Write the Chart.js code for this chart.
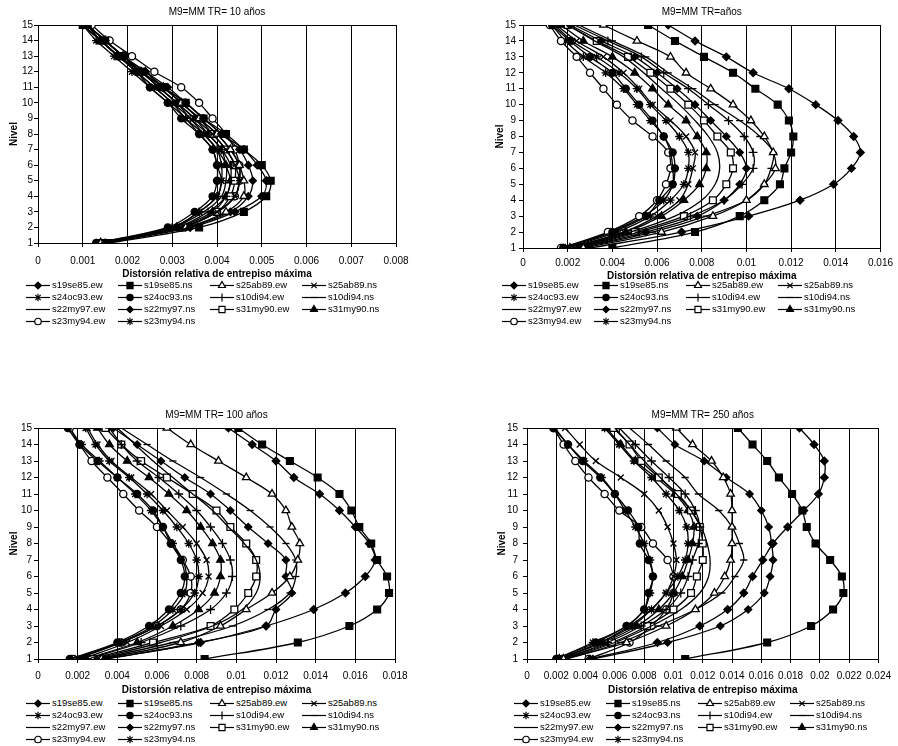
<!DOCTYPE html>
<html>
<head>
<meta charset="utf-8">
<script src="https://cdn.jsdelivr.net/npm/chart.js@4/dist/chart.umd.min.js"></script>
<style>
  html, body { margin: 0; padding: 0; background: #fff; width: 898px; height: 746px; overflow: hidden; }
  canvas.panel { position: absolute; }
  .legend { position: absolute; font: 9.5px "Liberation Sans", Arial, sans-serif; color: #000; }
  .legend .item { position: absolute; height: 12px; white-space: nowrap; }
  .legend .item canvas { position: absolute; left: 0; top: 0; }
  .legend .item span { position: absolute; left: 26px; top: 0; line-height: 12px; }
</style>
</head>
<body>
<canvas id="p10" class="panel"></canvas>
<canvas id="pTR" class="panel"></canvas>
<canvas id="p100" class="panel"></canvas>
<canvas id="p250" class="panel"></canvas>
<div id="l10" class="legend"></div>
<div id="lTR" class="legend"></div>
<div id="l100" class="legend"></div>
<div id="l250" class="legend"></div>

<script>
// Storey levels (y axis)
const levels = [1, 2, 3, 4, 5, 6, 7, 8, 9, 10, 11, 12, 13, 14, 15];

// Records, in legend order
const seriesNames = [
  's19se85.ew', 's19se85.ns', 's25ab89.ew', 's25ab89.ns',
  's24oc93.ew', 's24oc93.ns', 's10di94.ew', 's10di94.ns',
  's22my97.ew', 's22my97.ns', 's31my90.ew', 's31my90.ns',
  's23my94.ew', 's23my94.ns'
];

const titles = ['M9=MM TR= 10 años', 'M9=MM TR=años', 'M9=MM TR= 100 años', 'M9=MM TR= 250 años'];

// X tick values for each panel
const ticks10  = [0, 0.001, 0.002, 0.003, 0.004, 0.005, 0.006, 0.007, 0.008];
const ticksTR  = [0, 0.002, 0.004, 0.006, 0.008, 0.01, 0.012, 0.014, 0.016];
const ticks100 = [0, 0.002, 0.004, 0.006, 0.008, 0.01, 0.012, 0.014, 0.016, 0.018];
const ticks250 = [0, 0.002, 0.004, 0.006, 0.008, 0.01, 0.012, 0.014, 0.016, 0.018, 0.02, 0.022, 0.024];

// Maximum interstorey drift per level (levels 1..15), one row per record
const drift10 = [
  [0.0015, 0.0034, 0.0044, 0.0050, 0.0051, 0.0049, 0.0046, 0.0041, 0.0037, 0.0033, 0.0028, 0.0024, 0.0019, 0.0015, 0.0011],
  [0.0016, 0.0036, 0.0046, 0.0051, 0.0052, 0.0050, 0.0046, 0.0042, 0.0037, 0.0033, 0.0028, 0.0023, 0.0018, 0.0014, 0.0010],
  [0.0014, 0.0033, 0.0042, 0.0046, 0.0046, 0.0045, 0.0043, 0.0040, 0.0036, 0.0032, 0.0028, 0.0024, 0.0019, 0.0015, 0.0011],
  [0.0014, 0.0032, 0.0040, 0.0044, 0.0045, 0.0044, 0.0042, 0.0039, 0.0035, 0.0031, 0.0027, 0.0023, 0.0019, 0.0015, 0.0011],
  [0.0014, 0.0030, 0.0036, 0.0040, 0.0041, 0.0041, 0.0040, 0.0037, 0.0033, 0.0030, 0.0026, 0.0022, 0.0018, 0.0014, 0.0010],
  [0.0013, 0.0029, 0.0035, 0.0039, 0.0040, 0.0040, 0.0039, 0.0036, 0.0032, 0.0029, 0.0025, 0.0022, 0.0018, 0.0014, 0.0010],
  [0.0014, 0.0031, 0.0038, 0.0042, 0.0043, 0.0043, 0.0041, 0.0038, 0.0034, 0.0031, 0.0027, 0.0023, 0.0018, 0.0014, 0.0011],
  [0.0015, 0.0032, 0.0040, 0.0044, 0.0045, 0.0045, 0.0043, 0.0040, 0.0036, 0.0032, 0.0028, 0.0023, 0.0019, 0.0015, 0.0011],
  [0.0014, 0.0030, 0.0037, 0.0041, 0.0042, 0.0042, 0.0040, 0.0037, 0.0034, 0.0030, 0.0026, 0.0022, 0.0018, 0.0014, 0.0010],
  [0.0015, 0.0033, 0.0043, 0.0047, 0.0048, 0.0047, 0.0045, 0.0041, 0.0037, 0.0033, 0.0029, 0.0024, 0.0019, 0.0015, 0.0011],
  [0.0014, 0.0032, 0.0040, 0.0043, 0.0044, 0.0044, 0.0042, 0.0039, 0.0036, 0.0032, 0.0028, 0.0023, 0.0019, 0.0015, 0.0011],
  [0.0014, 0.0031, 0.0039, 0.0042, 0.0043, 0.0042, 0.0041, 0.0038, 0.0035, 0.0031, 0.0027, 0.0023, 0.0018, 0.0014, 0.0011],
  [0.0014, 0.0032, 0.0040, 0.0044, 0.0045, 0.0045, 0.0044, 0.0042, 0.0039, 0.0036, 0.0032, 0.0026, 0.0021, 0.0016, 0.0012],
  [0.0013, 0.0030, 0.0036, 0.0040, 0.0041, 0.0040, 0.0039, 0.0036, 0.0033, 0.0029, 0.0025, 0.0021, 0.0017, 0.0013, 0.0010]
];

const driftTR = [
  [0.0030, 0.0071, 0.0101, 0.0124, 0.0139, 0.0147, 0.0151, 0.0148, 0.0141, 0.0131, 0.0119, 0.0103, 0.0091, 0.0077, 0.0065],
  [0.0040, 0.0077, 0.0097, 0.0108, 0.0115, 0.0117, 0.0120, 0.0121, 0.0119, 0.0114, 0.0104, 0.0094, 0.0081, 0.0068, 0.0056],
  [0.0027, 0.0062, 0.0085, 0.0100, 0.0108, 0.0113, 0.0112, 0.0108, 0.0102, 0.0094, 0.0084, 0.0073, 0.0066, 0.0051, 0.0036],
  [0.0020, 0.0045, 0.0060, 0.0070, 0.0074, 0.0076, 0.0077, 0.0073, 0.0066, 0.0058, 0.0052, 0.0045, 0.0036, 0.0024, 0.0015],
  [0.0019, 0.0042, 0.0057, 0.0066, 0.0072, 0.0074, 0.0074, 0.0070, 0.0064, 0.0057, 0.0051, 0.0043, 0.0033, 0.0022, 0.0014],
  [0.0018, 0.0040, 0.0055, 0.0061, 0.0067, 0.0068, 0.0067, 0.0063, 0.0058, 0.0052, 0.0046, 0.0040, 0.0030, 0.0021, 0.0013],
  [0.0024, 0.0052, 0.0075, 0.0090, 0.0098, 0.0103, 0.0103, 0.0099, 0.0092, 0.0083, 0.0074, 0.0063, 0.0053, 0.0038, 0.0023],
  [0.0026, 0.0058, 0.0082, 0.0100, 0.0108, 0.0111, 0.0112, 0.0106, 0.0097, 0.0086, 0.0076, 0.0065, 0.0055, 0.0040, 0.0025],
  [0.0022, 0.0048, 0.0068, 0.0080, 0.0086, 0.0088, 0.0087, 0.0083, 0.0077, 0.0070, 0.0062, 0.0054, 0.0045, 0.0032, 0.0020],
  [0.0025, 0.0055, 0.0078, 0.0090, 0.0097, 0.0100, 0.0097, 0.0091, 0.0084, 0.0077, 0.0069, 0.0060, 0.0050, 0.0035, 0.0021],
  [0.0023, 0.0050, 0.0072, 0.0085, 0.0091, 0.0094, 0.0093, 0.0087, 0.0081, 0.0074, 0.0066, 0.0057, 0.0047, 0.0033, 0.0020],
  [0.0021, 0.0046, 0.0062, 0.0072, 0.0079, 0.0082, 0.0082, 0.0078, 0.0073, 0.0065, 0.0058, 0.0050, 0.0040, 0.0027, 0.0017],
  [0.0017, 0.0038, 0.0052, 0.0060, 0.0064, 0.0066, 0.0065, 0.0058, 0.0049, 0.0042, 0.0036, 0.0030, 0.0024, 0.0017, 0.0012],
  [0.0018, 0.0039, 0.0054, 0.0063, 0.0067, 0.0067, 0.0066, 0.0063, 0.0057, 0.0051, 0.0045, 0.0037, 0.0027, 0.0019, 0.0013]
];

const drift100 = [
  [0.0034, 0.0082, 0.0115, 0.0139, 0.0155, 0.0165, 0.0170, 0.0167, 0.0160, 0.0152, 0.0142, 0.0129, 0.0120, 0.0108, 0.0096],
  [0.0084, 0.0131, 0.0157, 0.0171, 0.0177, 0.0176, 0.0171, 0.0168, 0.0162, 0.0158, 0.0152, 0.0141, 0.0127, 0.0113, 0.0101],
  [0.0032, 0.0072, 0.0092, 0.0105, 0.0118, 0.0127, 0.0131, 0.0132, 0.0128, 0.0125, 0.0118, 0.0105, 0.0091, 0.0077, 0.0065],
  [0.0022, 0.0045, 0.0062, 0.0075, 0.0083, 0.0086, 0.0085, 0.0080, 0.0073, 0.0065, 0.0057, 0.0047, 0.0037, 0.0030, 0.0025],
  [0.0020, 0.0042, 0.0060, 0.0072, 0.0079, 0.0081, 0.0080, 0.0076, 0.0070, 0.0063, 0.0055, 0.0046, 0.0036, 0.0029, 0.0024],
  [0.0016, 0.0040, 0.0056, 0.0066, 0.0072, 0.0074, 0.0072, 0.0067, 0.0063, 0.0058, 0.0050, 0.0040, 0.0030, 0.0021, 0.0015],
  [0.0025, 0.0052, 0.0072, 0.0087, 0.0095, 0.0098, 0.0097, 0.0093, 0.0087, 0.0080, 0.0071, 0.0061, 0.0050, 0.0042, 0.0036],
  [0.0030, 0.0068, 0.0098, 0.0116, 0.0127, 0.0130, 0.0130, 0.0125, 0.0117, 0.0107, 0.0095, 0.0082, 0.0068, 0.0055, 0.0042],
  [0.0028, 0.0062, 0.0088, 0.0103, 0.0110, 0.0112, 0.0110, 0.0104, 0.0096, 0.0088, 0.0078, 0.0068, 0.0058, 0.0049, 0.0040],
  [0.0034, 0.0081, 0.0115, 0.0120, 0.0128, 0.0125, 0.0125, 0.0116, 0.0106, 0.0097, 0.0087, 0.0074, 0.0062, 0.0050, 0.0038],
  [0.0027, 0.0058, 0.0087, 0.0099, 0.0106, 0.0110, 0.0110, 0.0105, 0.0097, 0.0090, 0.0078, 0.0065, 0.0052, 0.0042, 0.0034],
  [0.0024, 0.0050, 0.0068, 0.0081, 0.0089, 0.0092, 0.0092, 0.0088, 0.0082, 0.0075, 0.0066, 0.0056, 0.0045, 0.0036, 0.0030],
  [0.0018, 0.0042, 0.0060, 0.0072, 0.0077, 0.0077, 0.0073, 0.0067, 0.0060, 0.0051, 0.0043, 0.0035, 0.0027, 0.0021, 0.0016],
  [0.0017, 0.0041, 0.0058, 0.0068, 0.0074, 0.0075, 0.0073, 0.0068, 0.0063, 0.0057, 0.0049, 0.0040, 0.0031, 0.0022, 0.0016]
];

const drift250 = [
  [0.0043, 0.0089, 0.0118, 0.0137, 0.0148, 0.0154, 0.0161, 0.0168, 0.0178, 0.0189, 0.0199, 0.0203, 0.0203, 0.0196, 0.0186],
  [0.0108, 0.0164, 0.0194, 0.0209, 0.0216, 0.0215, 0.0207, 0.0197, 0.0191, 0.0188, 0.0181, 0.0172, 0.0164, 0.0154, 0.0144],
  [0.0025, 0.0068, 0.0095, 0.0115, 0.0128, 0.0135, 0.0139, 0.0140, 0.0140, 0.0140, 0.0139, 0.0134, 0.0126, 0.0113, 0.0102],
  [0.0022, 0.0050, 0.0070, 0.0085, 0.0095, 0.0100, 0.0102, 0.0100, 0.0096, 0.0090, 0.0080, 0.0064, 0.0047, 0.0036, 0.0026],
  [0.0021, 0.0050, 0.0072, 0.0085, 0.0095, 0.0103, 0.0108, 0.0110, 0.0109, 0.0104, 0.0095, 0.0085, 0.0073, 0.0063, 0.0053],
  [0.0020, 0.0047, 0.0068, 0.0080, 0.0083, 0.0086, 0.0083, 0.0077, 0.0076, 0.0069, 0.0060, 0.0050, 0.0038, 0.0028, 0.0018],
  [0.0024, 0.0055, 0.0078, 0.0095, 0.0105, 0.0110, 0.0113, 0.0117, 0.0118, 0.0115, 0.0108, 0.0097, 0.0085, 0.0074, 0.0063],
  [0.0027, 0.0064, 0.0090, 0.0115, 0.0133, 0.0142, 0.0148, 0.0145, 0.0140, 0.0131, 0.0117, 0.0108, 0.0095, 0.0083, 0.0070],
  [0.0026, 0.0060, 0.0085, 0.0105, 0.0118, 0.0124, 0.0125, 0.0123, 0.0119, 0.0112, 0.0102, 0.0091, 0.0080, 0.0070, 0.0060],
  [0.0045, 0.0096, 0.0132, 0.0151, 0.0162, 0.0166, 0.0168, 0.0167, 0.0165, 0.0160, 0.0152, 0.0136, 0.0121, 0.0101, 0.0089],
  [0.0023, 0.0058, 0.0082, 0.0100, 0.0112, 0.0116, 0.0120, 0.0120, 0.0118, 0.0112, 0.0103, 0.0090, 0.0078, 0.0070, 0.0059],
  [0.0022, 0.0052, 0.0075, 0.0090, 0.0100, 0.0106, 0.0110, 0.0113, 0.0114, 0.0110, 0.0101, 0.0088, 0.0074, 0.0064, 0.0054],
  [0.0042, 0.0070, 0.0085, 0.0095, 0.0100, 0.0100, 0.0096, 0.0086, 0.0078, 0.0063, 0.0053, 0.0042, 0.0033, 0.0025, 0.0018],
  [0.0020, 0.0045, 0.0068, 0.0080, 0.0084, 0.0086, 0.0084, 0.0080, 0.0074, 0.0067, 0.0060, 0.0051, 0.0039, 0.0028, 0.0019]
];

// Marker style of each record (same order as seriesNames)
const markers = [
  { style: 'rectRot',  fill: '#000', r: 3.8 },
  { style: 'rect',     fill: '#000', r: 4.8 },
  { style: 'triangle', fill: '#fff', r: 4.4 },
  { style: 'crossRot', fill: '#000', r: 4.2 },
  { style: 'star',     fill: '#000', r: 4.2 },
  { style: 'circle',   fill: '#000', r: 3.5 },
  { style: 'cross',    fill: '#000', r: 4.4 },
  { style: 'line',     fill: '#000', r: 3.6 },
  { style: 'circle',   fill: '#000', r: 0 },
  { style: 'rectRot',  fill: '#000', r: 3.6 },
  { style: 'rect',     fill: '#fff', r: 4.8 },
  { style: 'triangle', fill: '#000', r: 4.4 },
  { style: 'circle',   fill: '#fff', r: 3.6 },
  { style: 'star',     fill: '#000', r: 4.2 }
];

const FONT = '"Liberation Sans", Arial, Helvetica, sans-serif';

// Placement of each panel on the page (pixels)
const panels = [
  { id: 'p10',  legendId: 'l10',  values: drift10,  ticks: ticks10,  title: titles[0],
    box: { left: 0,   top: 0,   width: 449, height: 282 },
    plot: { left: 38, right: 396, top: 25, bottom: 243 },
    titleY: 12.4, nivelX: 14, yLabelRight: 33, xTickY: 261, xTitleY: 274,
    legend: { left: 26, top: 279, pitch: 92 } },
  { id: 'pTR',  legendId: 'lTR',  values: driftTR,  ticks: ticksTR,  title: titles[1],
    box: { left: 450, top: 0,   width: 448, height: 282 },
    plot: { left: 73, right: 432, top: 25, bottom: 248 },
    titleY: 12.4, nivelX: 50, yLabelRight: 66, xTickY: 263, xTitleY: 276,
    legend: { left: 502, top: 279, pitch: 92 } },
  { id: 'p100', legendId: 'l100', values: drift100, ticks: ticks100, title: titles[2],
    box: { left: 0,   top: 400, width: 449, height: 296 },
    plot: { left: 38, right: 395, top: 28, bottom: 259 },
    titleY: 15, nivelX: 14, yLabelRight: 32, xTickY: 276, xTitleY: 290,
    legend: { left: 26, top: 697, pitch: 92 } },
  { id: 'p250', legendId: 'l250', values: drift250, ticks: ticks250, title: titles[3],
    box: { left: 450, top: 400, width: 448, height: 296 },
    plot: { left: 77, right: 433, top: 28, bottom: 259 },
    titleY: 15, nivelX: 52, yLabelRight: 68, xTickY: 276, xTitleY: 290,
    legend: { left: 514, top: 697, pitch: 92 } }
];

function fmtTick(v) {
  return String(parseFloat(Number(v).toFixed(4)));
}

function buildChart(p) {
  const cv = document.getElementById(p.id);
  cv.width = p.box.width;
  cv.height = p.box.height;
  cv.style.left = p.box.left + 'px';
  cv.style.top = p.box.top + 'px';
  cv.style.width = p.box.width + 'px';
  cv.style.height = p.box.height + 'px';

  const datasets = seriesNames.map((name, k) => ({
    label: name,
    data: levels.map((lv, i) => ({ x: p.values[k][i], y: lv })),
    borderColor: '#000',
    borderWidth: 1.3,
    backgroundColor: markers[k].fill,
    pointBackgroundColor: markers[k].fill,
    pointBorderColor: '#000',
    pointBorderWidth: 1.3,
    pointStyle: markers[k].style,
    pointRadius: markers[k].r,
    tension: 0.35,
    fill: false
  }));

  const titlePadTop = p.titleY - 6;
  return new Chart(cv, {
    type: 'line',
    data: { datasets },
    options: {
      responsive: false,
      animation: false,
      devicePixelRatio: 1,
      events: [],
      layout: { padding: { left: 0, top: 0, bottom: 0, right: p.box.width - p.plot.right } },
      plugins: {
        legend: { display: false },
        tooltip: { enabled: false },
        title: {
          display: true,
          text: p.title,
          fullSize: false,
          color: '#000',
          font: { family: FONT, size: 10, weight: 'normal' },
          padding: { top: titlePadTop, bottom: p.plot.top - titlePadTop - 12 }
        }
      },
      scales: {
        x: {
          type: 'linear',
          min: p.ticks[0],
          max: p.ticks[p.ticks.length - 1],
          afterBuildTicks: s => { s.ticks = p.ticks.map(v => ({ value: v })); },
          afterFit: s => { s.height = p.box.height - p.plot.bottom; },
          grid: { color: '#000', lineWidth: 1, tickLength: 4, tickColor: '#000', drawTicks: true },
          border: { display: true, color: '#000', width: 1 },
          ticks: {
            color: '#000',
            font: { family: FONT, size: 10 },
            padding: p.xTickY - p.plot.bottom - 4 - 6,
            autoSkip: false, maxRotation: 0, minRotation: 0,
            callback: v => fmtTick(v)
          },
          title: {
            display: true,
            text: 'Distorsión relativa de entrepiso máxima',
            color: '#000',
            font: { family: FONT, size: 10, weight: 'bold' },
            padding: { top: 0, bottom: p.box.height - p.xTitleY - 6 }
          }
        },
        y: {
          type: 'linear',
          min: levels[0],
          max: levels[levels.length - 1],
          afterBuildTicks: s => { s.ticks = levels.map(v => ({ value: v })); },
          afterFit: s => { s.width = p.plot.left; },
          grid: {
            color: c => (c.tick && c.tick.value === levels[levels.length - 1]) ? '#000' : 'rgba(0,0,0,0)',
            lineWidth: 1, tickLength: 4, tickColor: '#000', drawTicks: true
          },
          border: { display: true, color: '#000', width: 1 },
          ticks: {
            color: '#000',
            font: { family: FONT, size: 10 },
            padding: p.plot.left - 4 - p.yLabelRight,
            autoSkip: false,
            callback: v => String(v)
          },
          title: {
            display: true,
            text: 'Nivel',
            color: '#000',
            font: { family: FONT, size: 10, weight: 'bold' },
            padding: { top: p.nivelX - 6, bottom: 0 }
          }
        }
      }
    }
  });
}

// Small line-and-marker swatch for the legend, drawn with Chart.js helpers
function drawSwatch(cv, m) {
  const ctx = cv.getContext('2d');
  ctx.strokeStyle = '#000';
  ctx.lineWidth = 1.2;
  ctx.beginPath();
  ctx.moveTo(0, 6.5);
  ctx.lineTo(24, 6.5);
  ctx.stroke();
  if (m.r > 0) {
    ctx.fillStyle = m.fill;
    ctx.strokeStyle = '#000';
    const helpers = Chart.helpers;
    if (helpers && helpers.drawPoint) {
      helpers.drawPoint(ctx, { pointStyle: m.style, radius: m.r * 0.9, borderWidth: 1.2, rotation: 0 }, 12, 6.5);
    } else {
      ctx.fillRect(9, 3.5, 6, 6);
      ctx.strokeRect(9, 3.5, 6, 6);
    }
  }
}

function buildLegend(p) {
  const el = document.getElementById(p.legendId);
  el.style.left = p.legend.left + 'px';
  el.style.top = p.legend.top + 'px';
  seriesNames.forEach((name, k) => {
    const item = document.createElement('div');
    item.className = 'item';
    item.style.left = (k % 4) * p.legend.pitch + 'px';
    item.style.top = Math.floor(k / 4) * 12 + 'px';
    const sw = document.createElement('canvas');
    sw.width = 24; sw.height = 13;
    sw.style.width = '24px'; sw.style.height = '13px';
    drawSwatch(sw, markers[k]);
    const txt = document.createElement('span');
    txt.textContent = name;
    item.appendChild(sw);
    item.appendChild(txt);
    el.appendChild(item);
  });
}

panels.forEach(p => { buildChart(p); buildLegend(p); });
</script>
</body>
</html>
